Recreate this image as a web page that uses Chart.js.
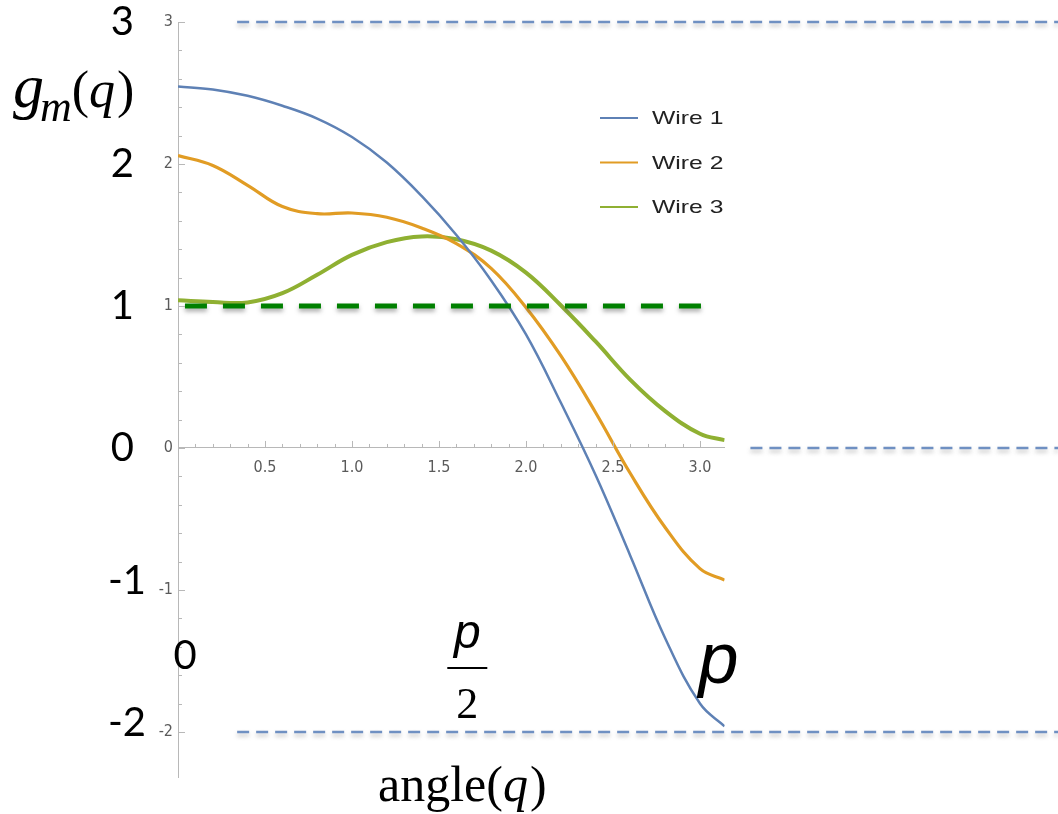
<!DOCTYPE html>
<html>
<head>
<meta charset="utf-8">
<script src="https://cdn.jsdelivr.net/npm/chart.js@4.4.0/dist/chart.umd.min.js"></script>
<style>
  html, body { margin: 0; padding: 0; background: #fff; }
  #wrap { width: 1058px; height: 814px; }
</style>
</head>
<body>
<div id="wrap"><canvas id="gm-canvas" width="1058" height="814"></canvas></div>
<script>
// angle samples (radians) and curve values
const angles = [0, 0.2, 0.4, 0.6, 0.8, 1.0, 1.2, 1.4, 1.6, 1.8, 2.0, 2.2, 2.4, 2.6, 2.8, 3.0, Math.PI];
const wire1 = [2.545, 2.525, 2.48, 2.41, 2.32, 2.19, 2.01, 1.775, 1.50, 1.18, 0.80, 0.32, -0.19, -0.76, -1.34, -1.80, -1.96];
const wire2 = [2.06, 1.99, 1.85, 1.70, 1.65, 1.655, 1.625, 1.55, 1.44, 1.265, 0.99, 0.65, 0.25, -0.18, -0.56, -0.85, -0.93];
const wire3 = [1.04, 1.028, 1.025, 1.09, 1.22, 1.36, 1.45, 1.49, 1.47, 1.39, 1.235, 1.005, 0.75, 0.48, 0.26, 0.10, 0.055];
const wireLabels = ['Wire 1', 'Wire 2', 'Wire 3'];
const wireColors = ['#5E81B5', '#E19C24', '#8FB032'];

// green threshold at g = 1
const threshold = 1;
const thresholdFrom = 0.04;
const thresholdTo = 3.01;

// blue reference lines
const refLevels = [3, 0, -2];
const refFrom = [0.34, 3.29, 0.34];
const refTo = 5.06;

// big overlay labels
const bigYLabels = [3, 2, 1, 0, -1, -2];

const wireSets = [wire1, wire2, wire3].map((vals, i) => ({
    label: wireLabels[i],
    data: angles.map((a, j) => ({x: a, y: vals[j]})),
    borderColor: wireColors[i],
    borderWidth: [2.5, 3.2, 4][i],
    pointRadius: 0,
    tension: 0.4,
}));

const refSets = refLevels.map((lvl, i) => ({
    label: 'ref' + i,
    data: [{x: refFrom[i], y: lvl}, {x: refTo, y: lvl}],
    borderColor: '#6F90C2',
    borderWidth: 2.5,
    borderDash: [12, 7],
    pointRadius: 0,
    clip: false,
    shadow: 'rgba(120,120,120,0.45)',
}));

const thresholdSet = {
    label: 'threshold',
    data: [{x: thresholdFrom, y: threshold}, {x: thresholdTo, y: threshold}],
    borderColor: '#008000',
    borderWidth: 5,
    borderDash: [22, 16],
    pointRadius: 0,
    clip: false,
    shadow: 'rgba(90,90,90,0.5)',
};

const shadowPlugin = {
    id: 'shadow',
    beforeDatasetDraw(chart, args) {
        const ds = chart.data.datasets[args.index];
        chart.ctx.save();
        if (ds.shadow) {
            chart.ctx.shadowColor = ds.shadow;
            chart.ctx.shadowBlur = 4;
            chart.ctx.shadowOffsetY = 3;
        }
    },
    afterDatasetDraw(chart) {
        chart.ctx.restore();
    }
};

const serif = '"Liberation Serif", "Times New Roman", serif';

// inward tick marks like the original axes, plus the overlay text and legend
const overlayPlugin = {
    id: 'overlay',
    afterDraw(chart) {
        const ctx = chart.ctx;
        const xs = chart.scales.x;
        const ys = chart.scales.y;
        const left = chart.chartArea.left;
        const y0 = ys.getPixelForValue(0);
        ctx.save();
        ctx.strokeStyle = '#b8b8b8';
        ctx.lineWidth = 1;
        ctx.beginPath();
        xs.ticks.forEach(t => {
            if (t.value === 0) return;
            const px = Math.round(xs.getPixelForValue(t.value)) + 0.5;
            const major = Math.abs(t.value * 2 - Math.round(t.value * 2)) < 1e-6;
            ctx.moveTo(px, y0);
            ctx.lineTo(px, y0 - (major ? 7 : 4));
        });
        ys.ticks.forEach(t => {
            const py = Math.round(ys.getPixelForValue(t.value)) + 0.5;
            const major = Math.abs(t.value - Math.round(t.value)) < 1e-6;
            ctx.moveTo(left, py);
            ctx.lineTo(left + (major ? 7 : 4), py);
        });
        ctx.stroke();

        // legend
        ctx.font = '19px "Liberation Sans", Arial, sans-serif';
        ctx.textBaseline = 'middle';
        ctx.textAlign = 'left';
        wireLabels.forEach((lab, i) => {
            const ly = 118 + i * 44.5;
            ctx.strokeStyle = wireColors[i];
            ctx.lineWidth = 2;
            ctx.beginPath();
            ctx.moveTo(600, ly);
            ctx.lineTo(638, ly);
            ctx.stroke();
            ctx.fillStyle = '#222';
            ctx.save();
            ctx.translate(652, ly + 1);
            ctx.scale(1.3, 1);
            ctx.fillText(lab, 0, 0);
            ctx.restore();
        });

        // big y labels
        ctx.fillStyle = '#000';
        ctx.font = '40px Lato, "Open Sans", sans-serif';
        ctx.textAlign = 'right';
        bigYLabels.forEach(v => {
            const py = ys.getPixelForValue(v) - (v < 0 ? 9 : 0);
            ctx.fillText(String(v), v < 0 ? 146 : 134, py);
        });

        // 0, p/2, p along the bottom
        ctx.textAlign = 'center';
        ctx.textBaseline = 'alphabetic';
        ctx.fillText('0', xs.getPixelForValue(0) + 7, 669);
        const half = xs.getPixelForValue(Math.PI / 2) + 16;
        ctx.font = 'italic 48px "Liberation Sans", Arial, sans-serif';
        ctx.fillText('p', half, 648);
        ctx.fillRect(half - 20, 667, 40, 2);
        ctx.font = '44px ' + serif;
        ctx.fillText('2', half, 718);
        ctx.font = 'italic 72px "Liberation Sans", Arial, sans-serif';
        ctx.fillText('p', xs.getPixelForValue(Math.PI) - 6, 683);

        // axis titles
        ctx.textAlign = 'left';
        let x = 378;
        ctx.font = '50px ' + serif;
        ctx.fillText('angle(', x, 801);
        x += ctx.measureText('angle(').width;
        ctx.font = 'italic 50px ' + serif;
        ctx.fillText('q', x, 801);
        x += ctx.measureText('q').width + 2;
        ctx.font = '50px ' + serif;
        ctx.fillText(')', x, 801);

        x = 13;
        ctx.font = 'italic 62px ' + serif;
        ctx.fillText('g', x, 107);
        x += ctx.measureText('g').width - 4;
        ctx.font = 'italic 44px ' + serif;
        ctx.fillText('m', x, 121);
        x += ctx.measureText('m').width;
        ctx.font = '52px ' + serif;
        ctx.fillText('(', x, 107);
        x += ctx.measureText('(').width;
        ctx.font = 'italic 52px ' + serif;
        ctx.fillText('q', x, 107);
        x += ctx.measureText('q').width + 2;
        ctx.font = '52px ' + serif;
        ctx.fillText(')', x, 107);
        ctx.restore();
    }
};

const tickFont = {family: '"Liberation Sans Narrow", "DejaVu Sans Condensed", sans-serif', size: 16};

const gm_config = {
    type: 'line',
    data: {
        datasets: [...refSets, thresholdSet, ...wireSets]
    },
    options: {
        responsive: false,
        animation: false,
        layout: {
            padding: {left: 0, right: 1058 - 724.6, top: 22, bottom: 814 - 777.4}
        },
        plugins: {
            legend: {display: false},
            tooltip: {enabled: false},
        },
        scales: {
            x: {
                type: 'linear',
                position: {y: 0},
                min: 0,
                max: Math.PI,
                grid: {display: true, drawOnChartArea: false, drawTicks: false},
                border: {display: true, color: '#b8b8b8', width: 1},
                afterBuildTicks: (scale) => {
                    scale.ticks = scale.ticks.filter(t => Math.abs(t.value * 10 - Math.round(t.value * 10)) < 1e-6);
                },
                ticks: {
                    stepSize: 0.1,
                    autoSkip: false,
                    maxRotation: 0,
                    padding: 10,
                    color: '#5a5a5a',
                    font: tickFont,
                    callback: (v) => {
                        const r = Math.round(v * 10);
                        return (r % 5 === 0 && r !== 0) ? (r / 10).toFixed(1) : '';
                    }
                }
            },
            y: {
                type: 'linear',
                position: 'left',
                min: -2.32,
                max: 3,
                grid: {display: true, drawOnChartArea: false, drawTicks: false},
                border: {display: true, color: '#b8b8b8', width: 1},
                afterFit: (scale) => { scale.width = 178; },
                afterBuildTicks: (scale) => {
                    scale.ticks = scale.ticks.filter(t => Math.abs(t.value * 5 - Math.round(t.value * 5)) < 1e-6);
                },
                ticks: {
                    stepSize: 0.2,
                    autoSkip: false,
                    padding: 5,
                    color: '#5a5a5a',
                    font: tickFont,
                    callback: (v) => Math.abs(v - Math.round(v)) < 1e-6 ? String(Math.round(v)) : ''
                }
            }
        }
    },
    plugins: [shadowPlugin, overlayPlugin]
};

const gm_ctx = document.getElementById('gm-canvas');
new Chart(gm_ctx, gm_config);
</script>
</body>
</html>
